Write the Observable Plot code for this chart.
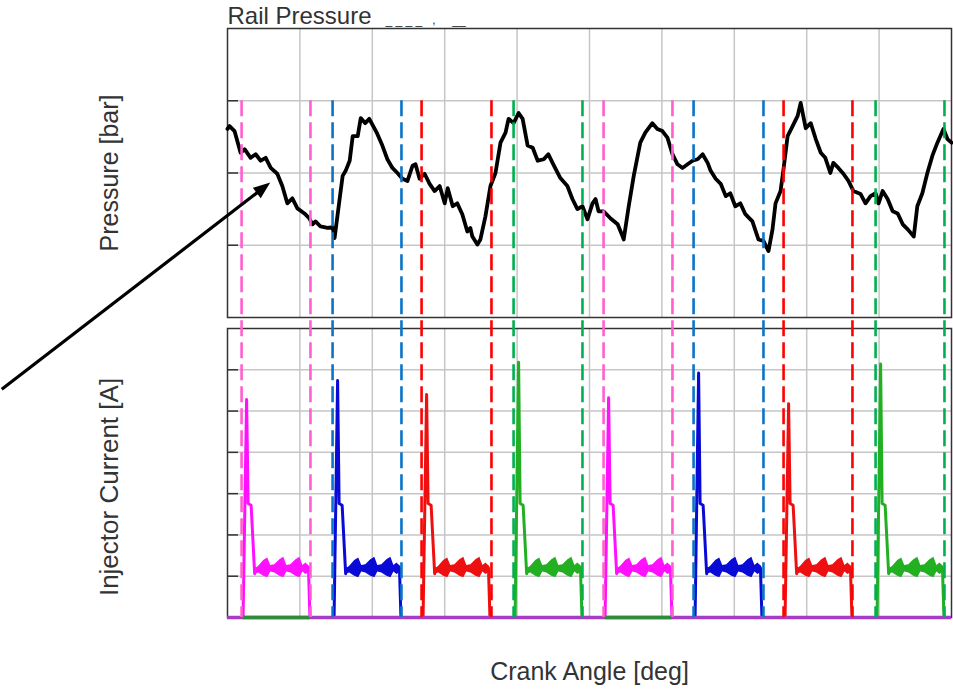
<!DOCTYPE html>
<html>
<head>
<meta charset="utf-8">
<script src="https://cdn.jsdelivr.net/npm/d3@7"></script>
<script src="https://cdn.jsdelivr.net/npm/@observablehq/plot@0.6"></script>
<style>
  body { margin: 0; background: #fff; }
  #chart { position: relative; width: 953px; height: 689px; overflow: hidden; background: #fff; }
  #chart svg { position: absolute; left: 0; top: 0; }
</style>
</head>
<body>
<div id="chart"></div>
<script>
// ---- Rail pressure trace (crank angle in degrees, pressure in bar) ----
const crankAngle = [
  0, 4, 14, 26, 34, 46, 56, 66, 76, 86,
  99, 109, 119, 129, 139, 153, 163, 169, 175, 185,
  199, 209, 213, 223, 229, 235, 243, 249, 259, 265,
  274, 282, 292, 298, 308, 318, 328, 338, 348, 358,
  368, 374, 382, 392, 402, 412, 422, 432, 438, 448,
  457, 467, 477, 483, 487, 497, 503, 513, 523, 533,
  543, 553, 559, 569, 579, 587, 597, 607, 617, 629,
  638, 648, 662, 676, 686, 696, 706, 716, 726, 732,
  738, 748, 762, 776, 786, 788, 798, 808, 821, 831,
  845, 855, 865, 875, 885, 895, 905, 915, 925, 935,
  945, 955, 961, 971, 981, 991, 1000, 1010, 1020, 1030,
  1044, 1056, 1066, 1076, 1084, 1090, 1100, 1106, 1114, 1124,
  1134, 1140, 1150, 1160, 1170, 1180, 1189, 1199, 1205, 1215,
  1225, 1235, 1245, 1259, 1269, 1279, 1289, 1295, 1303, 1313,
  1323, 1333, 1343, 1353, 1365, 1372, 1382, 1392, 1402, 1412,
  1424, 1432, 1440
];
const railPressure = [
  1661, 1665, 1658, 1628, 1633, 1621, 1626, 1617, 1621, 1607,
  1599, 1582, 1558, 1565, 1551, 1544, 1537, 1529, 1533, 1526,
  1524, 1525, 1510, 1564, 1596, 1603, 1617, 1651, 1651, 1676,
  1669, 1675, 1662, 1654, 1638, 1619, 1607, 1600, 1592, 1589,
  1610, 1612, 1592, 1599, 1585, 1575, 1582, 1558, 1579, 1554,
  1558, 1543, 1519, 1524, 1512, 1501, 1508, 1540, 1582, 1600,
  1642, 1656, 1675, 1669, 1683, 1675, 1638, 1635, 1617, 1619,
  1626, 1612, 1593, 1582, 1564, 1550, 1554, 1536, 1558, 1564,
  1547, 1547, 1537, 1529, 1512, 1508, 1554, 1596, 1642, 1656,
  1669, 1661, 1658, 1649, 1626, 1612, 1607, 1612, 1617, 1619,
  1626, 1614, 1603, 1592, 1585, 1568, 1572, 1554, 1558, 1543,
  1533, 1508, 1506, 1492, 1522, 1558, 1575, 1606, 1651, 1665,
  1679, 1697, 1662, 1669, 1647, 1628, 1621, 1600, 1614, 1607,
  1599, 1589, 1575, 1571, 1558, 1568, 1572, 1558, 1575, 1564,
  1547, 1544, 1529, 1522, 1512, 1554, 1572, 1600, 1624, 1642,
  1661, 1647, 1642
];

// ---- Injection events (firing order 1-3-4-2, two engine cycles) ----
const injCylinder = [0, 1, 2, 3, 0, 1, 2, 3];
const injStart = [28, 209, 386, 569, 748, 927, 1106, 1289];   // deg, window opens
const injEnd = [165, 346, 525, 706, 885, 1066, 1243, 1426];   // deg, window closes
const injPeak = [26.4, 28.7, 27.0, 30.9, 26.6, 29.6, 25.9, 30.7]; // A, pull-in peak

// Current pulse shape, degrees after window opening; null = the pulse's own peak
const pulseDeg = [0, 3, 10, 13, 19, 26, 29, 131, 133, 136];
const pulseAmp = [0, 0, null, 13.8, 13.6, 5.3, 5.9, 6.2, 6.0, 0];

// Hold-phase chopping ripple envelope
const rippleDeg = [28, 34, 44, 52, 58, 66, 76, 84, 90, 98, 108, 116, 122, 128, 133];
const rippleHi = [5.9, 6.2, 6.9, 7.2, 6.3, 6.4, 7.0, 7.3, 6.3, 6.4, 7.0, 7.3, 6.3, 6.6, 6.3];
const rippleLo = [5.3, 5.4, 5.0, 4.8, 5.5, 5.4, 5.0, 4.8, 5.5, 5.4, 5.0, 4.8, 5.5, 5.2, 5.4];

// Scales and reference lines
const xDomain = [0, 1440];
const xGrid = [144, 288, 432, 576, 720, 864, 1008, 1152, 1296];
const pressureDomain = [1400, 1800];
const pressureGrid = [1500, 1600, 1700];
const currentDomain = [0, 35];
const currentGrid = [5, 10, 15, 20, 25, 30];

// Annotation arrow (crank angle, bar)
const arrowTail = [-448, 1300];
const arrowTip = [86, 1586];

const cylinderTrace = ["#ff10ff", "#0a0ad6", "#ee1010", "#22b022"];
const cylinderWindow = ["#ff5fcf", "#0b74c8", "#ff0000", "#00b050"];

// ---- layout ----
const W = 953, H = 689;
const left = 227, right = 951;
const topY0 = 28, topY1 = 317;
const botY0 = 328, botY1 = 617;
const font = "'Liberation Sans', Arial, sans-serif";
const gridStyle = {stroke: "#c6c6c6", strokeOpacity: 1, strokeWidth: 1.5};
const textColor = "#333";
const nb = "\u00a0";

// Extend the injection window lines down through the current panel
const yTopScale = Plot.scale({y: {domain: pressureDomain, range: [topY1, topY0]}});
const yBotScale = Plot.scale({y: {domain: currentDomain, range: [botY1, botY0]}});
const windowBottom = yTopScale.invert(yBotScale.apply(0));

const pressureRows = crankAngle.map((x, i) => ({x, y: railPressure[i]}));
const injections = injStart.map((s, i) => ({
  start: s, end: injEnd[i], peak: injPeak[i],
  cyl: injCylinder[i], windowColor: cylinderWindow[injCylinder[i]], traceColor: cylinderTrace[injCylinder[i]]
}));

const traceRows = injections.flatMap((d, k) => pulseDeg.map((o, j) => ({
  pulse: k, x: d.start + o, y: pulseAmp[j] == null ? d.peak : pulseAmp[j], color: d.traceColor
})));
const rippleRows = injections.flatMap((d, k) => rippleDeg.map((o, j) => ({
  pulse: k, x: d.start + o, lo: rippleLo[j], hi: rippleHi[j], color: d.traceColor
})));
// Cylinder 1 pulses leave a green trace on the zero line while active
const zeroSegments = injections.filter(d => d.cyl === 0).map(d => ({
  x1: d.start + pulseDeg[1], x2: d.start + pulseDeg[pulseDeg.length - 1], y: 0
}));

function annotationArrow(index, scales) {
  const ns = "http://www.w3.org/2000/svg";
  const x1 = scales.x(arrowTail[0]), y1 = scales.y(arrowTail[1]);
  const x2 = scales.x(arrowTip[0]), y2 = scales.y(arrowTip[1]);
  const a = Math.atan2(y2 - y1, x2 - x1);
  const len = 17, half = 6.5;
  const bx = x2 - len * Math.cos(a), by = y2 - len * Math.sin(a);
  const g = document.createElementNS(ns, "g");
  const line = document.createElementNS(ns, "line");
  line.setAttribute("x1", x1); line.setAttribute("y1", y1);
  line.setAttribute("x2", bx + 2 * Math.cos(a)); line.setAttribute("y2", by + 2 * Math.sin(a));
  line.setAttribute("stroke", "#000"); line.setAttribute("stroke-width", 3.2);
  g.appendChild(line);
  const head = document.createElementNS(ns, "polygon");
  const px = -Math.sin(a), py = Math.cos(a);
  head.setAttribute("points", [
    [x2, y2], [bx + half * px, by + half * py], [bx - half * px, by - half * py]
  ].map(p => p.join(",")).join(" "));
  head.setAttribute("fill", "#000");
  g.appendChild(head);
  return g;
}

const topPlot = Plot.plot({
  width: W, height: H,
  marginLeft: left, marginRight: W - right, marginTop: topY0, marginBottom: H - topY1,
  style: {background: "transparent", overflow: "visible", fontFamily: font},
  x: {domain: xDomain, axis: null},
  y: {domain: pressureDomain, axis: null},
  color: {type: "identity"},
  marks: [
    Plot.gridX(xGrid, gridStyle),
    Plot.gridY(pressureGrid, gridStyle),
    Plot.axisY(pressureGrid, {tickSize: -11, tickFormat: () => "", stroke: "#333", strokeWidth: 1.5, label: null}),
    Plot.frame({stroke: "#333", strokeWidth: 1.5}),
    Plot.line(pressureRows, {x: "x", y: "y", stroke: "#000", strokeWidth: 3.8, strokeLinejoin: "round"}),
    Plot.ruleX(injections, {x: "start", y1: pressureGrid[2], y2: windowBottom, stroke: "windowColor", strokeWidth: 2.6, strokeDasharray: "16,6"}),
    Plot.ruleX(injections, {x: "end", y1: pressureGrid[2], y2: windowBottom, stroke: "windowColor", strokeWidth: 2.6, strokeDasharray: "16,6"}),
    annotationArrow,
    Plot.text(["Rail Pressure"], {frameAnchor: "top-left", dy: -5, lineAnchor: "bottom", textAnchor: "start", fontSize: 24, fill: textColor}),
    Plot.text([`_${nb}_${nb}_${nb}_${nb}${nb}${nb},${nb}${nb}${nb}${nb}${nb}__`], {frameAnchor: "top-left", dx: 158, dy: -5, lineAnchor: "bottom", textAnchor: "start", fontSize: 12, fill: textColor}),
    Plot.text(["Pressure [bar]"], {frameAnchor: "left", rotate: -90, textAnchor: "middle", dx: -118, fontSize: 25, fill: textColor})
  ]
});

const bottomPlot = Plot.plot({
  width: W, height: H,
  marginLeft: left, marginRight: W - right, marginTop: botY0, marginBottom: H - botY1,
  style: {background: "transparent", overflow: "visible", fontFamily: font},
  x: {domain: xDomain, axis: null},
  y: {domain: currentDomain, axis: null},
  color: {type: "identity"},
  marks: [
    Plot.gridX(xGrid, gridStyle),
    Plot.gridY(currentGrid, gridStyle),
    Plot.axisY(currentGrid, {tickSize: -11, tickFormat: () => "", stroke: "#333", strokeWidth: 1.5, label: null}),
    Plot.frame({stroke: "#333", strokeWidth: 1.5}),
    Plot.areaY(rippleRows, {x: "x", y1: "lo", y2: "hi", z: "pulse", fill: "color"}),
    Plot.line(traceRows, {x: "x", y: "y", z: "pulse", stroke: "color", strokeWidth: 3, strokeLinejoin: "round"}),
    Plot.ruleY([0], {stroke: "#a63cc6", strokeWidth: 3.5}),
    Plot.ruleY(zeroSegments, {y: "y", x1: "x1", x2: "x2", stroke: "#2f8a3a", strokeWidth: 3.5}),
    Plot.text(["Injector Current [A]"], {frameAnchor: "left", rotate: -90, textAnchor: "middle", dx: -118, dy: 14, fontSize: 26, fill: textColor}),
    Plot.text(["Crank Angle [deg]"], {frameAnchor: "bottom", dy: 62, fontSize: 25, fill: textColor})
  ]
});

const chart = document.getElementById("chart");
chart.appendChild(bottomPlot);
chart.appendChild(topPlot);
</script>
</body>
</html>
